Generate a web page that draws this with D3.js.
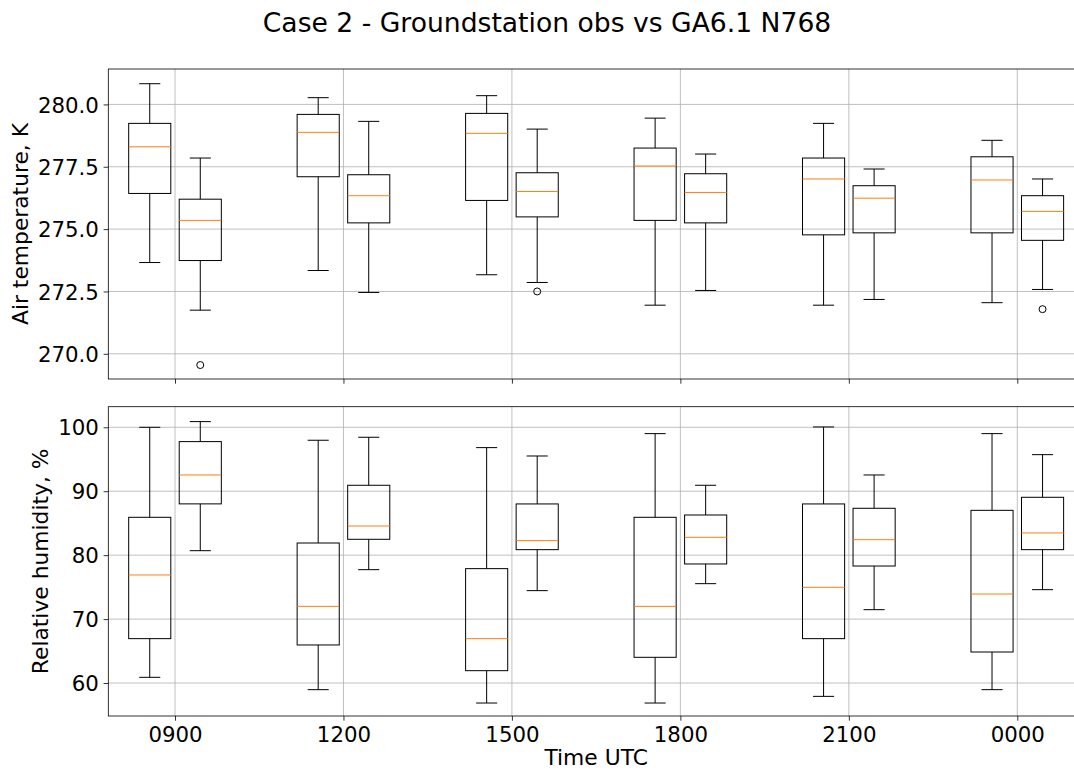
<!DOCTYPE html>
<html>
<head>
<meta charset="utf-8">
<script src="https://cdn.jsdelivr.net/npm/d3@7"></script>
<style>
  html, body { margin: 0; padding: 0; background: #fff; }
  svg { display: block; font-family: "DejaVu Sans", sans-serif; }
</style>
</head>
<body>
<svg id="chart" width="1074" height="770"></svg>
<script>
// Observation times along the x axis
const times = ["0900", "1200", "1500", "1800", "2100", "0000"];

// Box statistics per time: [lower whisker, Q1, median, Q3, upper whisker]
const tempObs = [
  [273.66, 276.43, 278.30, 279.24, 280.83],
  [273.34, 277.10, 278.88, 279.60, 280.27],
  [273.17, 276.15, 278.84, 279.64, 280.35],
  [271.95, 275.35, 277.53, 278.25, 279.45],
  [271.95, 274.77, 277.01, 277.85, 279.24],
  [272.05, 274.85, 276.97, 277.90, 278.56]
];
const tempModel = [
  [271.75, 273.74, 275.35, 276.20, 277.85],
  [272.46, 275.25, 276.34, 277.18, 279.32],
  [272.86, 275.49, 276.51, 277.26, 279.01],
  [272.54, 275.25, 276.47, 277.22, 278.01],
  [272.18, 274.85, 276.24, 276.74, 277.41],
  [272.58, 274.55, 275.71, 276.34, 277.01]
];
// Outliers for each box, per time
const tempModelFliers = [[269.55], [], [272.50], [], [], [271.79]];
const tempObsFliers = [[], [], [], [], [], []];

const rhObs = [
  [60.89, 66.94, 76.90, 85.92, 100.00],
  [58.96, 65.95, 71.99, 81.90, 97.97],
  [56.87, 61.93, 66.94, 77.89, 96.82],
  [56.87, 64.02, 71.99, 85.92, 99.01],
  [57.91, 66.94, 74.97, 88.01, 100.05],
  [58.96, 64.85, 73.92, 87.01, 99.01]
];
const rhModel = [
  [80.70, 88.02, 92.54, 97.76, 100.89],
  [77.73, 82.48, 84.56, 90.93, 98.44],
  [74.45, 80.86, 82.27, 88.01, 95.51],
  [75.54, 78.62, 82.79, 86.28, 90.93],
  [71.47, 78.30, 82.42, 87.33, 92.54],
  [74.60, 80.86, 83.47, 89.05, 95.72]
];
const rhObsFliers = [[], [], [], [], [], []];
const rhModelFliers = [[], [], [], [], [], []];

// Tick values for each panel
const tempTicks = [270.0, 272.5, 275.0, 277.5, 280.0];
const rhTicks = [60, 70, 80, 90, 100];

const svg = d3.select("#chart");
const FONT = 21.3;
const LABEL_FONT = 21.8;
const left = 108.3, right = 1084;

const x = d3.scaleLinear().domain([-0.396, times.length - 1 + 0.396]).range([left, right]);

const BOX_W = 0.25, OFFSET = 0.15;

function panel(cfg) {
  const y = d3.scaleLinear().domain(cfg.domain).range([cfg.bottom, cfg.top]);
  const g = svg.append("g");

  // grid
  g.append("g").selectAll("line").data(cfg.ticks).join("line")
    .attr("x1", left).attr("x2", right)
    .attr("y1", d => y(d)).attr("y2", d => y(d))
    .attr("stroke", "#b0b0b0").attr("stroke-width", 0.8);
  g.append("g").selectAll("line").data(times.map((_, i) => i)).join("line")
    .attr("x1", d => x(d)).attr("x2", d => x(d))
    .attr("y1", cfg.top).attr("y2", cfg.bottom)
    .attr("stroke", "#b0b0b0").attr("stroke-width", 0.8);

  // boxes
  const series = [
    { stats: cfg.obs, fliers: cfg.obsFliers, off: -OFFSET },
    { stats: cfg.model, fliers: cfg.modelFliers, off: OFFSET }
  ];
  series.forEach(s => {
    s.stats.forEach((st, i) => {
      const cx = i + s.off;
      const [lo, q1, med, q3, hi] = st;
      const bx = g.append("g").attr("fill", "none").attr("stroke", "#000").attr("stroke-width", 1);
      // whiskers
      bx.append("line").attr("x1", x(cx)).attr("x2", x(cx)).attr("y1", y(q1)).attr("y2", y(lo));
      bx.append("line").attr("x1", x(cx)).attr("x2", x(cx)).attr("y1", y(q3)).attr("y2", y(hi));
      // caps
      bx.append("line").attr("x1", x(cx - BOX_W / 4)).attr("x2", x(cx + BOX_W / 4)).attr("y1", y(lo)).attr("y2", y(lo));
      bx.append("line").attr("x1", x(cx - BOX_W / 4)).attr("x2", x(cx + BOX_W / 4)).attr("y1", y(hi)).attr("y2", y(hi));
      // box
      bx.append("rect")
        .attr("x", x(cx - BOX_W / 2)).attr("width", x(cx + BOX_W / 2) - x(cx - BOX_W / 2))
        .attr("y", y(q3)).attr("height", y(q1) - y(q3));
      // median
      bx.append("line").attr("stroke", "#ff7f0e")
        .attr("x1", x(cx - BOX_W / 2)).attr("x2", x(cx + BOX_W / 2))
        .attr("y1", y(med)).attr("y2", y(med));
      // outliers
      bx.selectAll("circle").data(s.fliers[i]).join("circle")
        .attr("cx", x(cx)).attr("cy", d => y(d)).attr("r", 3.5);
    });
  });

  // spines
  g.append("rect").attr("x", left).attr("y", cfg.top)
    .attr("width", right - left).attr("height", cfg.bottom - cfg.top)
    .attr("fill", "none").attr("stroke", "#000").attr("stroke-width", 0.8);

  // y axis
  const yAxis = d3.axisLeft(y).tickValues(cfg.ticks).tickFormat(cfg.fmt)
    .tickSize(4.7).tickPadding(4.7);
  const ya = g.append("g").attr("transform", `translate(${left},0)`).call(yAxis);
  ya.select(".domain").remove();
  ya.selectAll(".tick line").attr("stroke-width", 0.8);
  ya.selectAll(".tick text").attr("font-size", FONT).attr("font-family", "DejaVu Sans").attr("fill", "#000")
    .attr("dy", "0.36em");

  // x axis
  const xAxis = d3.axisBottom(x).tickValues(times.map((_, i) => i))
    .tickFormat(i => cfg.showX ? times[i] : "").tickSize(4.7).tickPadding(4.7);
  const xa = g.append("g").attr("transform", `translate(0,${cfg.bottom})`).call(xAxis);
  xa.select(".domain").remove();
  xa.selectAll(".tick line").attr("stroke-width", 0.8);
  xa.selectAll(".tick text").attr("font-size", FONT).attr("font-family", "DejaVu Sans").attr("fill", "#000")
    .attr("dy", "0.76em");

  // y label
  g.append("text")
    .attr("transform", `translate(${cfg.labelX},${(cfg.top + cfg.bottom) / 2}) rotate(-90)`)
    .attr("text-anchor", "middle").attr("font-size", LABEL_FONT).attr("fill", "#000")
    .text(cfg.label);
}

panel({
  top: 69, bottom: 379, domain: [268.99, 281.42], ticks: tempTicks,
  fmt: d3.format(".1f"), obs: tempObs, model: tempModel,
  obsFliers: tempObsFliers, modelFliers: tempModelFliers,
  label: "Air temperature, K", labelX: 27.5, showX: false
});

panel({
  top: 406.7, bottom: 716, domain: [54.84, 103.22], ticks: rhTicks,
  fmt: d3.format("d"), obs: rhObs, model: rhModel,
  obsFliers: rhObsFliers, modelFliers: rhModelFliers,
  label: "Relative humidity, %", labelX: 47.7, showX: true
});

// x axis label
svg.append("text").attr("x", (left + right) / 2).attr("y", 765)
  .attr("text-anchor", "middle").attr("font-size", LABEL_FONT).attr("fill", "#000")
  .text("Time UTC");

// title
svg.append("text").attr("x", 547).attr("y", 32)
  .attr("text-anchor", "middle").attr("font-size", 26.6).attr("fill", "#000")
  .text("Case 2 - Groundstation obs vs GA6.1 N768");
</script>
</body>
</html>
